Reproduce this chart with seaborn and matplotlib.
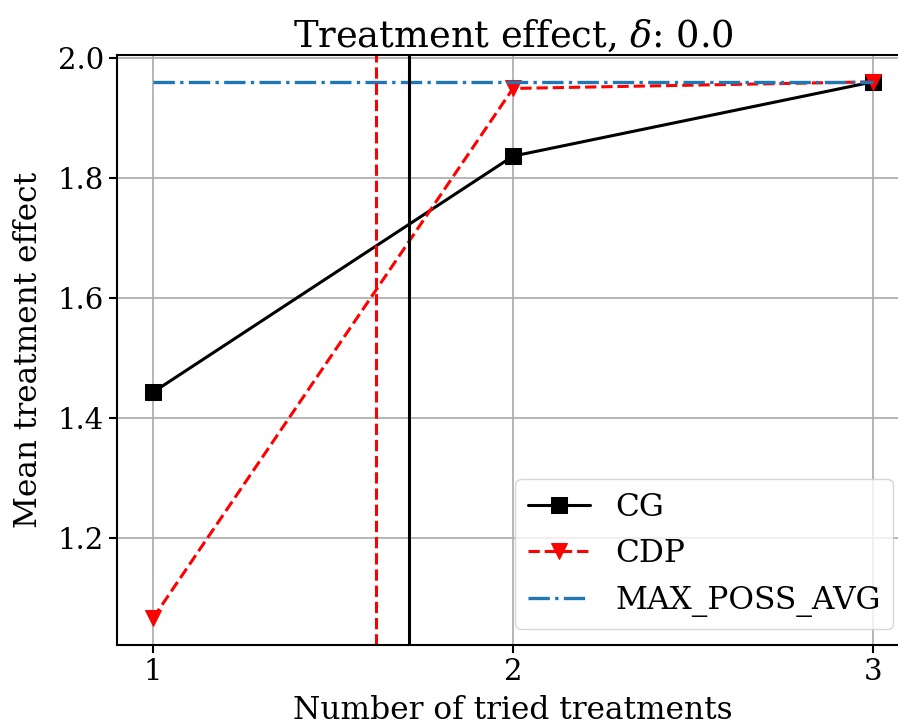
import matplotlib
matplotlib.use("Agg")
import matplotlib.pyplot as plt
import seaborn as sns
import pandas as pd

# Data
n_tried = [1, 2, 3]
cg_values = [1.443, 1.837, 1.961]
cdp_values = [1.066, 1.950, 1.961]
max_poss_avg = [1.961, 1.961, 1.961]
cdp_vline = 1.62
cg_vline = 1.71
xticks = [1, 2, 3]
yticks = [1.2, 1.4, 1.6, 1.8, 2.0]

sns.set_style("ticks")
plt.rcParams['font.family'] = ['DejaVu Serif']
plt.rcParams['mathtext.fontset'] = 'dejavuserif'
plt.rcParams['text.color'] = 'black'
plt.rcParams['axes.labelcolor'] = 'black'
plt.rcParams['xtick.color'] = 'black'
plt.rcParams['ytick.color'] = 'black'

fig = plt.figure(figsize=(8.98, 7.25), dpi=100)
ax = fig.add_axes([117/898, 80/725, (909-117)/898, 590/725])

df = pd.DataFrame({"x": n_tried * 3,
                   "y": cg_values + cdp_values + max_poss_avg,
                   "method": ["CG"] * 3 + ["CDP"] * 3 + ["MAX_POSS_AVG"] * 3})

sns.lineplot(data=df[df.method == "CG"], x="x", y="y", ax=ax, color="black",
             marker="s", markersize=11, markeredgecolor="black", lw=2.2, label="CG")
sns.lineplot(data=df[df.method == "CDP"], x="x", y="y", ax=ax, color="red",
             marker="v", markersize=12, markeredgecolor="red", lw=2.2,
             linestyle="--", label="CDP")
sns.lineplot(data=df[df.method == "MAX_POSS_AVG"], x="x", y="y", ax=ax,
             color="#1f77b4", lw=2.4, linestyle="-.", label="MAX_POSS_AVG")
ax.axvline(cdp_vline, color="red", lw=2.2, linestyle="--")
ax.axvline(cg_vline, color="black", lw=2.2)

ax.set_xlim(0.9, 3.1)
ax.set_ylim(1.0212, 2.0058)
ax.set_xticks(xticks)
ax.set_yticks(yticks)
ax.set_xticklabels([str(t) for t in xticks])
ax.set_yticklabels([f"{t:.1f}" for t in yticks])
ax.grid(True, color="#b0b0b0", lw=1.3)
for s in ax.spines.values():
    s.set_color("black")
    s.set_linewidth(1.5)
ax.tick_params(labelsize=21, length=6, width=1.5, color="black")
ax.set_xlabel("Number of tried treatments", fontsize=22.5, labelpad=6)
ax.set_ylabel("Mean treatment effect", fontsize=22.5, labelpad=10)
ax.set_title(r"Treatment effect, $\delta$: 0.0", fontsize=26.5)
ax.legend(loc="lower right", fontsize=22.5, frameon=True, fancybox=True,
          framealpha=0.8, borderaxespad=0.5)

fig.savefig("out.png", dpi=100)
